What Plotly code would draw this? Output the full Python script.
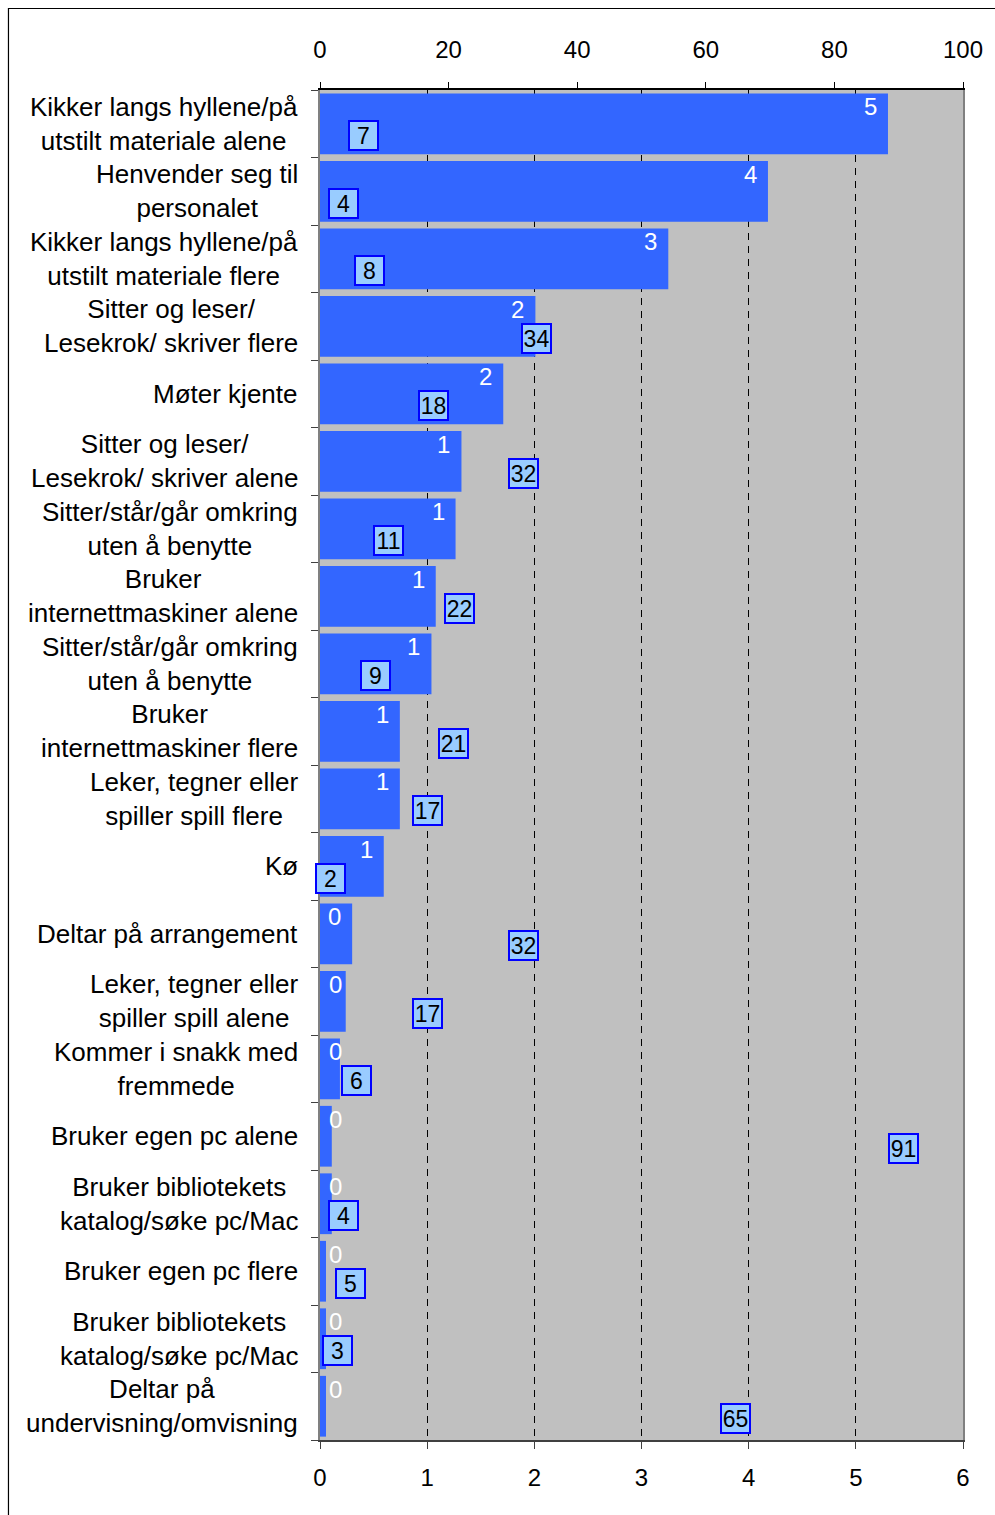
import plotly.graph_objects as go

categories = [
    "Kikker langs hyllene/på<br>utstilt materiale alene",
    "Henvender seg til<br>personalet",
    "Kikker langs hyllene/på<br>utstilt materiale flere",
    "Sitter og leser/<br>Lesekrok/ skriver flere",
    "Møter kjente",
    "Sitter og leser/<br>Lesekrok/ skriver alene",
    "Sitter/står/går omkring<br>uten å benytte",
    "Bruker<br>internettmaskiner alene",
    "Sitter/står/går omkring<br>uten å benytte",
    "Bruker<br>internettmaskiner flere",
    "Leker, tegner eller<br>spiller spill flere",
    "Kø",
    "Deltar på arrangement",
    "Leker, tegner eller<br>spiller spill alene",
    "Kommer i snakk med<br>fremmede",
    "Bruker egen pc alene",
    "Bruker bibliotekets<br>katalog/søke pc/Mac",
    "Bruker egen pc flere",
    "Bruker bibliotekets<br>katalog/søke pc/Mac",
    "Deltar på<br>undervisning/omvisning",
]
bar_values = [5.30, 4.18, 3.25, 2.01, 1.71, 1.32, 1.265, 1.08, 1.04, 0.745,
              0.745, 0.595, 0.30, 0.24, 0.186, 0.11, 0.11, 0.056, 0.056, 0.056]
box_values = [7, 4, 8, 34, 18, 32, 11, 22, 9, 21, 17, 2, 32, 17, 6, 91, 4, 5, 3, 65]
bottom_ticks = [0, 1, 2, 3, 4, 5, 6]
top_ticks = [0, 20, 40, 60, 80, 100]

FONT = "Arial, Liberation Sans, sans-serif"
n = len(categories)
ypos = list(range(n))

fig = go.Figure()
fig.add_trace(go.Bar(
    y=ypos, x=bar_values, orientation="h", width=0.9,
    marker=dict(color="#3366FF", line=dict(width=0)),
    xaxis="x", yaxis="y", showlegend=False, hoverinfo="x",
))
fig.add_trace(go.Scatter(
    y=[i + 0.18 for i in ypos], x=box_values, mode="markers",
    marker=dict(size=1, opacity=0), xaxis="x2", yaxis="y",
    showlegend=False, hoverinfo="x",
))

annotations = []
# category labels
for i, c in enumerate(categories):
    annotations.append(dict(
        x=0, xref="paper", y=i, yref="y", text=c, showarrow=False,
        xanchor="right", yanchor="middle", align="center", xshift=-20,
        font=dict(family=FONT, size=26, color="black"),
    ))
# white rounded value labels
for i, v in enumerate(bar_values):
    if v >= 0.28:
        ax = dict(x=v, xanchor="right", xshift=-9)
    else:
        ax = dict(x=0, xanchor="left", xshift=7)
    annotations.append(dict(
        xref="x", y=i - 0.255, yref="y", text=str(round(v)), showarrow=False,
        yanchor="middle", font=dict(family=FONT, size=24, color="white"), **ax,
    ))
# boxed labels on the secondary axis
for i, b in enumerate(box_values):
    annotations.append(dict(
        x=b, xref="x2", y=i + 0.18, yref="y", text=str(b), showarrow=False,
        xanchor="center", yanchor="middle", xshift=-2,
        font=dict(family=FONT, size=23, color="black"),
        bgcolor="#99CCFF", bordercolor="#0000FF", borderwidth=2,
        borderpad=0, width=27, height=27,
    ))

fig.update_layout(
    width=995, height=1515,
    margin=dict(l=320, r=30, t=90, b=75),
    paper_bgcolor="white", plot_bgcolor="#C0C0C0",
    bargap=0.1,
    font=dict(family=FONT, size=24, color="black"),
    xaxis=dict(
        range=[0, 6], tickvals=bottom_ticks, ticks="outside", ticklen=7,
        tickcolor="#404040", showline=True, linecolor="#404040", linewidth=1.5,
        showgrid=True, gridcolor="black", gridwidth=1, griddash="7px,6px",
        zeroline=False, tickfont=dict(family=FONT, size=24, color="black"),
        ticklabelstandoff=8,
    ),
    xaxis2=dict(
        range=[0, 100], tickvals=top_ticks, overlaying="x", side="top",
        anchor="y", ticks="outside", ticklen=6, tickcolor="black",
        showline=True, linecolor="black", linewidth=1.5, showgrid=False,
        zeroline=False, tickfont=dict(family=FONT, size=24, color="black"),
        ticklabelstandoff=15,
    ),
    yaxis=dict(
        range=[n - 0.5, -0.5], tickvals=[i - 0.5 for i in range(n + 1)],
        ticktext=["" for _ in range(n + 1)], ticks="outside", ticklen=7,
        tickcolor="#404040", showline=True, linecolor="#808080", linewidth=1.5,
        mirror=True, showgrid=False, zeroline=False,
    ),
    annotations=annotations,
    shapes=[dict(
        type="rect", xref="paper", yref="paper",
        x0=(7.5 - 320) / 645, x1=1.1, y0=-0.1, y1=1 + (90 - 8.5) / 1350,
        line=dict(color="black", width=1.2), fillcolor="rgba(0,0,0,0)",
        layer="above",
    )],
)

fig.write_html(
    "out.html",
    config={"displayModeBar": False},
    post_script="document.body.style.margin='0';"
                "document.documentElement.style.overflow='hidden';",
)
